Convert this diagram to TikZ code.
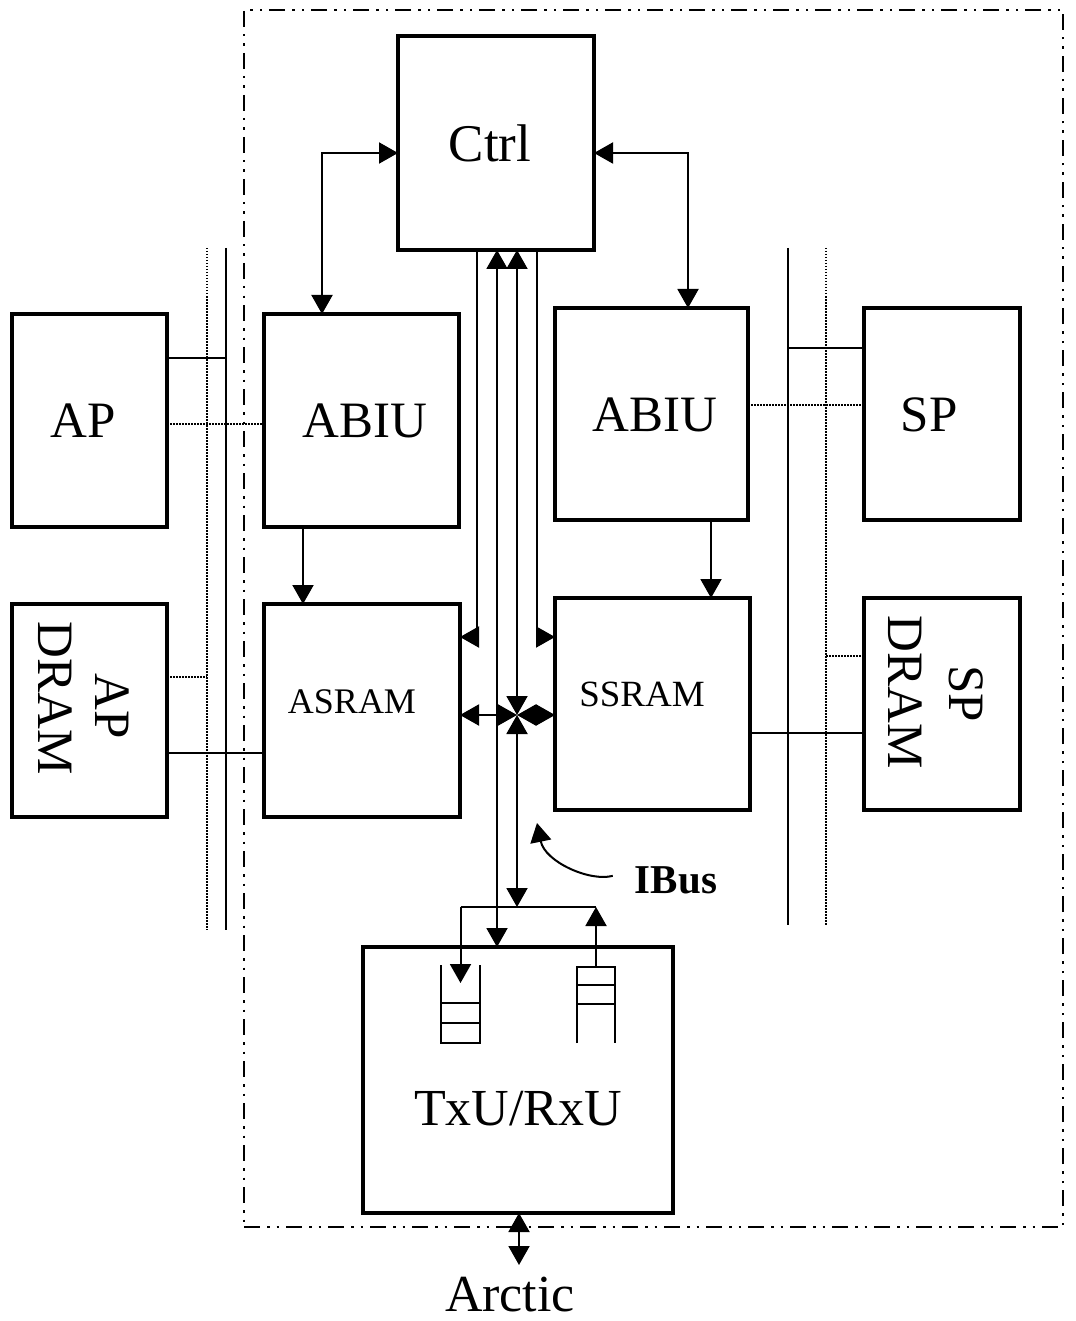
\documentclass[tikz,border=0pt]{standalone}
\usepackage{fontspec}
\setmainfont{Liberation Serif}
\usetikzlibrary{arrows.meta,calc}
\begin{document}
\begin{tikzpicture}[x=1pt,y=-1pt,
  box/.style={draw, line width=3.8pt, inner sep=0pt, outer sep=0pt},
  qbox/.style={inner sep=0pt, outer sep=0pt},
  wire/.style={line width=2pt},
  qline/.style={line width=2.2pt},
  dotwire/.style={line width=2pt, dash pattern=on 1.5pt off 1.5pt},
  frame/.style={draw, line width=2.6pt, dash pattern=on 16pt off 7pt on 2.5pt off 7pt on 2.5pt off 7pt, inner sep=0pt, outer sep=0pt},
  >={Triangle[length=19pt,width=21pt]},
  lbl/.style={inner sep=0pt, anchor=base},
  big/.style={font=\fontsize{51}{58}\selectfont},
]
\fill[white] (0,0) rectangle (1075,1321);
\useasboundingbox (0,0) rectangle (1075,1321);

% frame
\node[frame, minimum width=819pt, minimum height=1217pt] (frame) at (653.5,618.5) {};

% boxes
\node[box, minimum width=196pt, minimum height=214pt] (ctrl) at (496,143) {};
\node[box, minimum width=195pt, minimum height=213pt] (abiuL) at (361.5,420.5) {};
\node[box, minimum width=193pt, minimum height=212pt] (abiuR) at (651.5,414) {};
\node[box, minimum width=155pt, minimum height=213pt] (ap) at (89.5,420.5) {};
\node[box, minimum width=155pt, minimum height=213pt] (apd) at (89.5,710.5) {};
\node[box, minimum width=196pt, minimum height=213pt] (asram) at (362,710.5) {};
\node[box, minimum width=195pt, minimum height=212pt] (ssram) at (652.5,704) {};
\node[box, minimum width=156pt, minimum height=212pt] (sp) at (942,414) {};
\node[box, minimum width=156pt, minimum height=212pt] (spd) at (942,704) {};
\node[box, minimum width=310pt, minimum height=266pt] (txu) at (518,1080) {};

% queues
\node[qbox, minimum width=39pt, minimum height=78pt] (qin) at (460.5,1004) {};
\node[qbox, minimum width=38pt, minimum height=76pt] (qout) at (596,1005) {};
\draw[qline] (qin.north west) -- (qin.south west) -- (qin.south east) -- (qin.north east);
\draw[qline] ($(qin.south west)+(0,-20)$) -- ($(qin.south east)+(0,-20)$);
\draw[qline] ($(qin.south west)+(0,-40)$) -- ($(qin.south east)+(0,-40)$);
\draw[qline] (qout.south west) -- (qout.north west) -- (qout.north east) -- (qout.south east);
\draw[qline] ($(qout.north west)+(0,18)$) -- ($(qout.north east)+(0,18)$);
\draw[qline] ($(qout.north west)+(0,37)$) -- ($(qout.north east)+(0,37)$);

% texts
\node[lbl, font=\fontsize{53}{60}\selectfont] (tctrl) at (490,162) {Ctrl};
\node[lbl, big] (tabiuL) at (365,437) {ABIU};
\node[lbl, big] (tabiuR) at (655,431) {ABIU};
\node[lbl, big] (tap) at (83,437) {AP};
\node[lbl, big] (tsp) at (929,431) {SP};
\node[lbl, font=\fontsize{36}{42}\selectfont] (tasram) at (352,713) {ASRAM};
\node[lbl, font=\fontsize{37}{42}\selectfont] (tssram) at (642,706) {SSRAM};
\node[lbl, font=\fontsize{52}{60}\selectfont] (ttxu) at (518,1125) {TxU/RxU};
\node[lbl, font=\fontsize{52}{60}\selectfont] (arctic) at (510,1311) {Arctic};
\node[lbl, font=\fontsize{41}{48}\selectfont\bfseries] (ibus) at (676,893) {IBus};
\node[big, inner sep=0pt, rotate=-90] (tapd1) at (112,706) {AP};
\node[big, inner sep=0pt, rotate=-90] (tapd2) at (55,698) {DRAM};
\node[big, inner sep=0pt, rotate=-90] (tspd1) at (966,694) {SP};
\node[big, inner sep=0pt, rotate=-90] (tspd2) at (905,692) {DRAM};

% helper coordinates
\coordinate (hub) at (517,715);
\coordinate (join) at (517,907);
\coordinate (lsT) at (226,248); \coordinate (lsB) at (226,930);
\coordinate (ldT) at (207,248); \coordinate (ldB) at (207,930);
\coordinate (rsT) at (788,248); \coordinate (rsB) at (788,925);
\coordinate (rdT) at (826,248); \coordinate (rdB) at (826,925);
\coordinate (yA) at (0,358); \coordinate (yB) at (0,424);
\coordinate (yC) at (0,677); \coordinate (yD) at (0,753);
\coordinate (yE) at (0,348); \coordinate (yF) at (0,405);
\coordinate (yG) at (0,656); \coordinate (yH) at (0,733);
\coordinate (yCt) at (0,153); \coordinate (yS) at (0,637);
\coordinate (x1) at (477,0); \coordinate (x2) at (497,0);
\coordinate (x3) at (517,0); \coordinate (x4) at (537,0);
\coordinate (xa) at (322,0); \coordinate (xb) at (688,0);
\coordinate (xc) at (303,0); \coordinate (xd) at (711,0);
\coordinate (ibustip) at (537,823);
\coordinate (arcend) at (519,1265);

% buses
\draw[wire] (lsT) -- (lsB);
\draw[dotwire] (ldT) -- (ldB);
\draw[wire] (rsT) -- (rsB);
\draw[dotwire] (rdT) -- (rdB);

% bus connections
\draw[wire] (ap.east |- yA) -- (lsT |- yA);
\draw[dotwire] (ap.east |- yB) -- (abiuL.west |- yB);
\draw[dotwire] (apd.east |- yC) -- (ldT |- yC);
\draw[wire] (apd.east |- yD) -- (asram.west |- yD);
\draw[wire] (rsT |- yE) -- (sp.west |- yE);
\draw[dotwire] (abiuR.east |- yF) -- (sp.west |- yF);
\draw[dotwire] (rdT |- yG) -- (spd.west |- yG);
\draw[wire] (ssram.east |- yH) -- (spd.west |- yH);

% control connections
\draw[wire,<->] (ctrl.west |- yCt) -| (xa |- abiuL.north);
\draw[wire,<->] (ctrl.east |- yCt) -| (xb |- abiuR.north);
\draw[wire,->] (xc |- abiuL.south) -- (xc |- asram.north);
\draw[wire,->] (xd |- abiuR.south) -- (xd |- ssram.north);

% internal bus
\draw[wire,->] (x1 |- ctrl.south) |- (asram.east |- yS);
\draw[wire,->] (x4 |- ctrl.south) |- (ssram.west |- yS);
\draw[wire,<->] (x2 |- ctrl.south) -- (x2 |- txu.north);
\draw[wire,<->] (x3 |- ctrl.south) -- (hub);
\draw[wire,<->] (asram.east |- hub) -- (hub);
\draw[wire,<->] (hub) -- (ssram.west |- hub);
\draw[wire,<->] (hub) -- (join);
\draw[wire] (qin.north |- join) -- (qout.north |- join);
\draw[wire,->] (qin.north |- join) -- ([yshift=-18pt]qin.north);
\draw[wire,->] (qout.north) -- (qout.north |- join);

% IBus pointer
\draw[wire,->] ($(ibus.west)+(-22,-4)$) .. controls (590,882) and (545,862) .. (ibustip);

% Arctic
\draw[wire,<->] (txu.south -| arcend) -- (arcend);
\end{tikzpicture}
\end{document}
